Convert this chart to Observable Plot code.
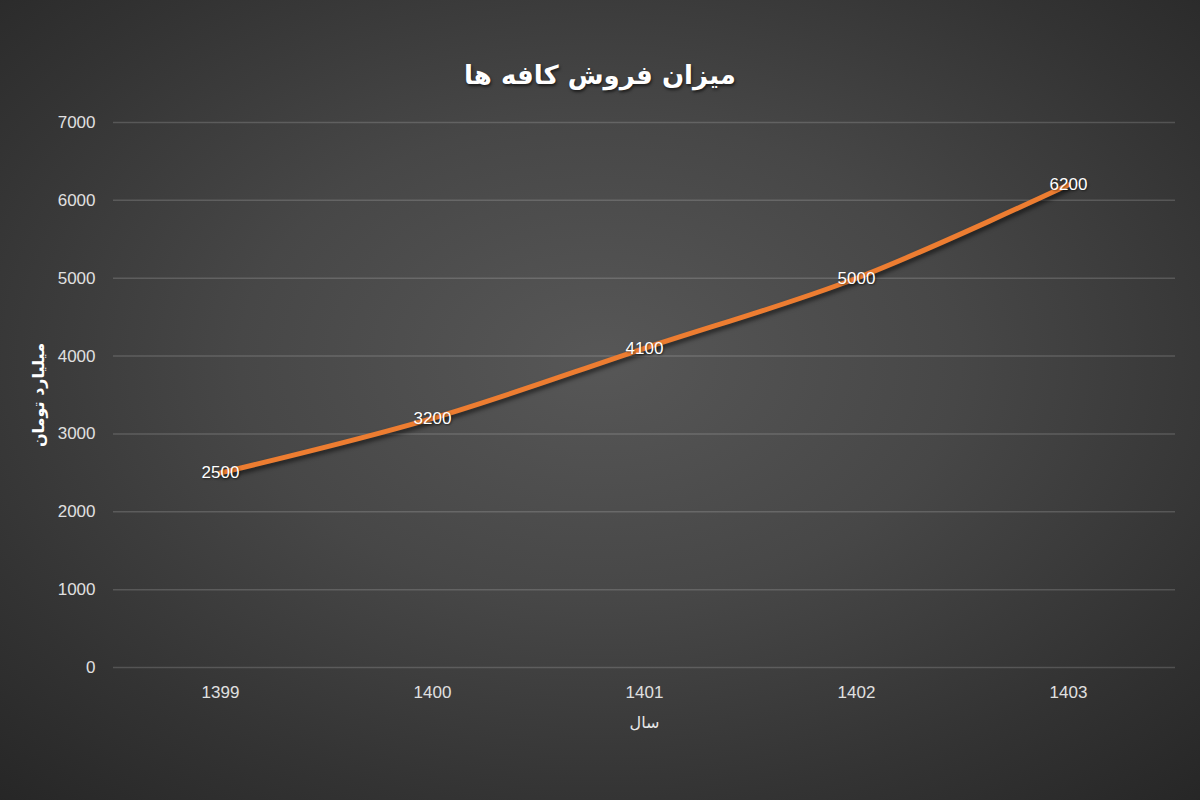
<!DOCTYPE html>
<html>
<head>
<meta charset="utf-8">
<script src="https://cdn.jsdelivr.net/npm/d3@7"></script>
<script src="https://cdn.jsdelivr.net/npm/@observablehq/plot@0.6"></script>
<style>
  html, body { margin: 0; padding: 0; }
  #wrap {
    width: 1200px; height: 800px; position: relative; overflow: hidden;
    background: radial-gradient(ellipse 75% 75% at 50% 45%, #575757 0%, #474747 40%, #333333 75%, #262626 100%);
  }
  #title {
    height: 100px; line-height: 1; box-sizing: border-box; padding-top: 62px;
    text-align: center; color: #fff; font-family: "DejaVu Sans", sans-serif;
    font-weight: bold; font-size: 26px; direction: rtl;
    text-shadow: 1px 2px 3px rgba(0,0,0,0.6);
  }
  #chart svg { display: block; background: transparent; }
  .ln path { filter: drop-shadow(2px 3px 2px rgba(0,0,0,0.55)); }
  .lbl text { text-shadow: 1px 1px 2px rgba(0,0,0,0.5); }
</style>
</head>
<body>
<div id="wrap">
  <div id="title">میزان فروش کافه ها</div>
  <div id="chart"></div>
</div>
<script>
const years = ["1399", "1400", "1401", "1402", "1403"];
const sales = [2500, 3200, 4100, 5000, 6200];
const yTicks = [0, 1000, 2000, 3000, 4000, 5000, 6000, 7000];
const yLabel = "میلیارد تومان";
const xLabel = "سال";

const data = years.map((y, i) => ({year: y, value: sales[i]}));

const chart = Plot.plot({
  width: 1200,
  height: 700,
  marginTop: 22,
  marginBottom: 133,
  marginLeft: 113,
  marginRight: 25,
  style: {background: "transparent", color: "#e0e0e0", fontFamily: "'Liberation Sans', Arial, sans-serif", fontSize: "17px"},
  x: {type: "point", domain: years, padding: 0.5, label: null},
  y: {domain: [0, 7000], label: null},
  marks: [
    Plot.gridY(yTicks, {stroke: "#ffffff", strokeOpacity: 0.16, strokeWidth: 1.5}),
    Plot.axisY({ticks: yTicks, tickFormat: d => String(d), tickSize: 0, tickPadding: 18, label: null, fill: "#e0e0e0", fontSize: 17}),
    Plot.axisX({tickSize: 0, tickPadding: 18, label: null, fill: "#e0e0e0", fontSize: 17}),
    Plot.line(data, {x: "year", y: "value", stroke: "#ed7d31", strokeWidth: 5, curve: "catmull-rom", className: "ln"}),
    Plot.text(data, {x: "year", y: "value", text: d => String(d.value), fill: "#ffffff", fontSize: 17, className: "lbl"}),
    Plot.text([yLabel], {frameAnchor: "left", dx: -75, rotate: -90, textAnchor: "middle", lineAnchor: "middle", fill: "#ffffff", fontSize: 16, fontWeight: "bold", fontFamily: "'DejaVu Sans', sans-serif", text: d => d}),
    Plot.text([xLabel], {frameAnchor: "bottom", dy: 55, textAnchor: "middle", lineAnchor: "middle", fill: "#e8e8e8", fontSize: 16, fontFamily: "'DejaVu Sans', sans-serif", text: d => d})
  ]
});
document.getElementById("chart").appendChild(chart);
</script>
</body>
</html>
